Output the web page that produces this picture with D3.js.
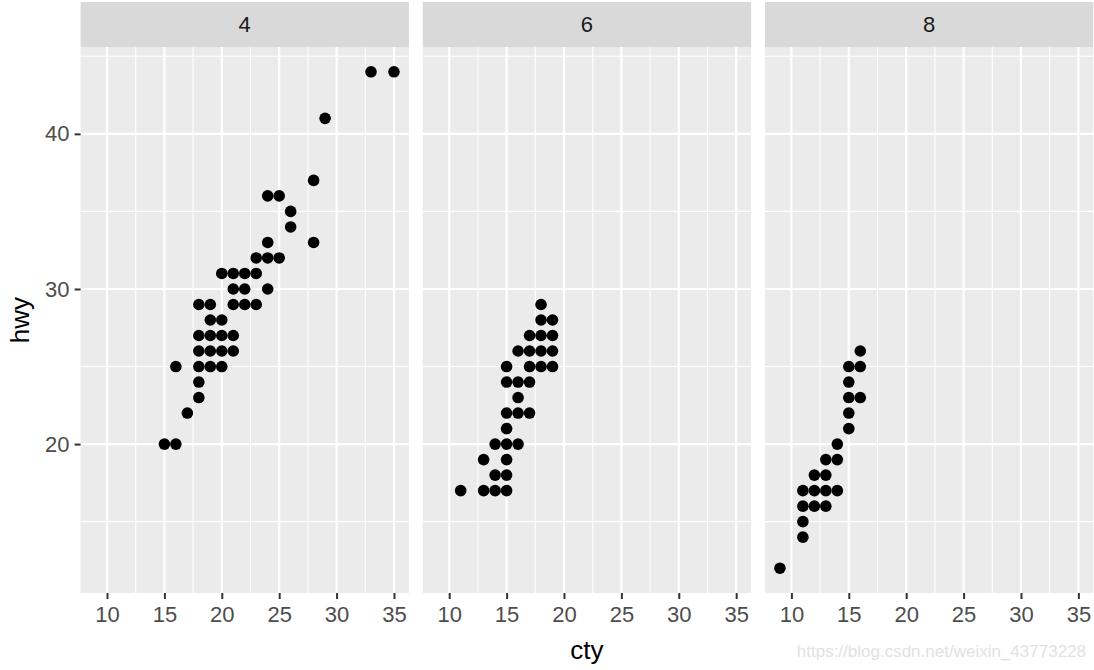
<!DOCTYPE html>
<html>
<head>
    <title>hwy vs cty by cyl</title>
    <script src="https://d3js.org/d3.v7.min.js"></script>
    <style>
        body { margin: 0; background: #fff; font-family: "Liberation Sans", Arial, sans-serif; }
        svg { display: block; }
    </style>
</head>
<body>
    <svg id="canvas" width="1094" height="670"></svg>
    <script>
        // facet labels and [cty, hwy] points per facet
        const facets = ['4', '6', '8'];
        const cyl4 = [
            [15,20],[16,20],[17,22],[18,23],[18,24],[16,25],[18,25],[19,25],[20,25],
            [18,26],[19,26],[20,26],[21,26],[18,27],[19,27],[20,27],[21,27],
            [19,28],[20,28],[18,29],[19,29],[21,29],[22,29],[23,29],
            [21,30],[22,30],[24,30],[20,31],[21,31],[22,31],[23,31],
            [23,32],[24,32],[25,32],[24,33],[28,33],[26,34],[26,35],
            [24,36],[25,36],[28,37],[29,41],[33,44],[35,44]
        ];
        const cyl6 = [
            [11,17],[13,17],[14,17],[15,17],[14,18],[15,18],[13,19],[15,19],
            [14,20],[15,20],[16,20],[15,21],[15,22],[16,22],[17,22],[16,23],
            [15,24],[16,24],[17,24],[15,25],[17,25],[18,25],[19,25],
            [16,26],[17,26],[18,26],[19,26],[17,27],[18,27],[19,27],
            [18,28],[19,28],[18,29]
        ];
        const cyl8 = [
            [9,12],[11,14],[11,15],[11,16],[12,16],[13,16],
            [11,17],[12,17],[13,17],[14,17],[12,18],[13,18],[13,19],[14,19],
            [14,20],[15,21],[15,22],[15,23],[16,23],[15,24],[15,25],[16,25],[16,26]
        ];
        const facetData = [cyl4, cyl6, cyl8];
        const xTicks = [10, 15, 20, 25, 30, 35];
        const xMinor = [12.5, 17.5, 22.5, 27.5, 32.5];
        const yTicks = [20, 30, 40];
        const yMinor = [15, 25, 35, 45];

        const svg = d3.select('#canvas');

        const panelLeft = 80.6, panelW = 328.3, gap = 13.9;
        const stripTop = 2, panelTop = 47, panelBottom = 593;

        const x = d3.scaleLinear().domain([7.7, 36.3]).range([0, panelW]);
        const y = d3.scaleLinear().domain([10.4, 45.6]).range([panelBottom, panelTop]);

        facets.forEach((f, i) => {
            const g = svg.append('g')
                .attr('transform', `translate(${panelLeft + i * (panelW + gap)},0)`);

            // strip
            g.append('rect')
                .attr('x', 0).attr('y', stripTop)
                .attr('width', panelW).attr('height', panelTop - stripTop)
                .attr('fill', '#D9D9D9');
            g.append('text')
                .attr('x', panelW / 2).attr('y', (stripTop + panelTop) / 2)
                .attr('dy', '0.36em')
                .attr('text-anchor', 'middle')
                .attr('font-size', '22px')
                .attr('fill', '#1A1A1A')
                .text(f);

            // panel background
            g.append('rect')
                .attr('x', 0).attr('y', panelTop)
                .attr('width', panelW).attr('height', panelBottom - panelTop)
                .attr('fill', '#EBEBEB');

            // minor grid
            g.selectAll('.xminor').data(xMinor).join('line')
                .attr('x1', d => x(d)).attr('x2', d => x(d))
                .attr('y1', panelTop).attr('y2', panelBottom)
                .attr('stroke', '#fff').attr('stroke-width', 1.1);
            g.selectAll('.yminor').data(yMinor).join('line')
                .attr('x1', 0).attr('x2', panelW)
                .attr('y1', d => y(d)).attr('y2', d => y(d))
                .attr('stroke', '#fff').attr('stroke-width', 1.1);

            // major grid
            g.selectAll('.xmajor').data(xTicks).join('line')
                .attr('x1', d => x(d)).attr('x2', d => x(d))
                .attr('y1', panelTop).attr('y2', panelBottom)
                .attr('stroke', '#fff').attr('stroke-width', 2.2);
            g.selectAll('.ymajor').data(yTicks).join('line')
                .attr('x1', 0).attr('x2', panelW)
                .attr('y1', d => y(d)).attr('y2', d => y(d))
                .attr('stroke', '#fff').attr('stroke-width', 2.2);

            // points
            g.selectAll('circle').data(facetData[i]).join('circle')
                .attr('cx', d => x(d[0]))
                .attr('cy', d => y(d[1]))
                .attr('r', 5.8)
                .attr('fill', '#000');

            // x axis
            const xAxis = g.append('g')
                .attr('transform', `translate(0,${panelBottom})`)
                .call(d3.axisBottom(x).tickValues(xTicks).tickSize(6).tickPadding(7));
            xAxis.select('.domain').remove();
            xAxis.selectAll('line').attr('stroke', '#333').attr('stroke-width', 2);
            xAxis.selectAll('text')
                .attr('font-size', '22px')
                .attr('font-family', '"Liberation Sans", Arial, sans-serif')
                .attr('fill', '#4D4D4D');
        });

        // y axis (left panel only)
        const yAxis = svg.append('g')
            .attr('transform', `translate(${panelLeft},0)`)
            .call(d3.axisLeft(y).tickValues(yTicks).tickSize(6).tickPadding(5));
        yAxis.select('.domain').remove();
        yAxis.selectAll('line').attr('stroke', '#333').attr('stroke-width', 2);
        yAxis.selectAll('text')
            .attr('font-size', '22px')
            .attr('font-family', '"Liberation Sans", Arial, sans-serif')
            .attr('fill', '#4D4D4D');

        // axis titles
        const totalW = 3 * panelW + 2 * gap;
        svg.append('text')
            .attr('x', panelLeft + totalW / 2).attr('y', 659)
            .attr('text-anchor', 'middle')
            .attr('font-size', '26px')
            .attr('fill', '#000')
            .text('cty');
        svg.append('text')
            .attr('transform', `translate(29,${(panelTop + panelBottom) / 2}) rotate(-90)`)
            .attr('text-anchor', 'middle')
            .attr('font-size', '26px')
            .attr('fill', '#000')
            .text('hwy');

        // watermark
        svg.append('text')
            .attr('x', 1086).attr('y', 657)
            .attr('text-anchor', 'end')
            .attr('font-size', '17px')
            .attr('fill', '#E2E2E2')
            .text('https://blog.csdn.net/weixin_43773228');
    </script>
</body>
</html>
